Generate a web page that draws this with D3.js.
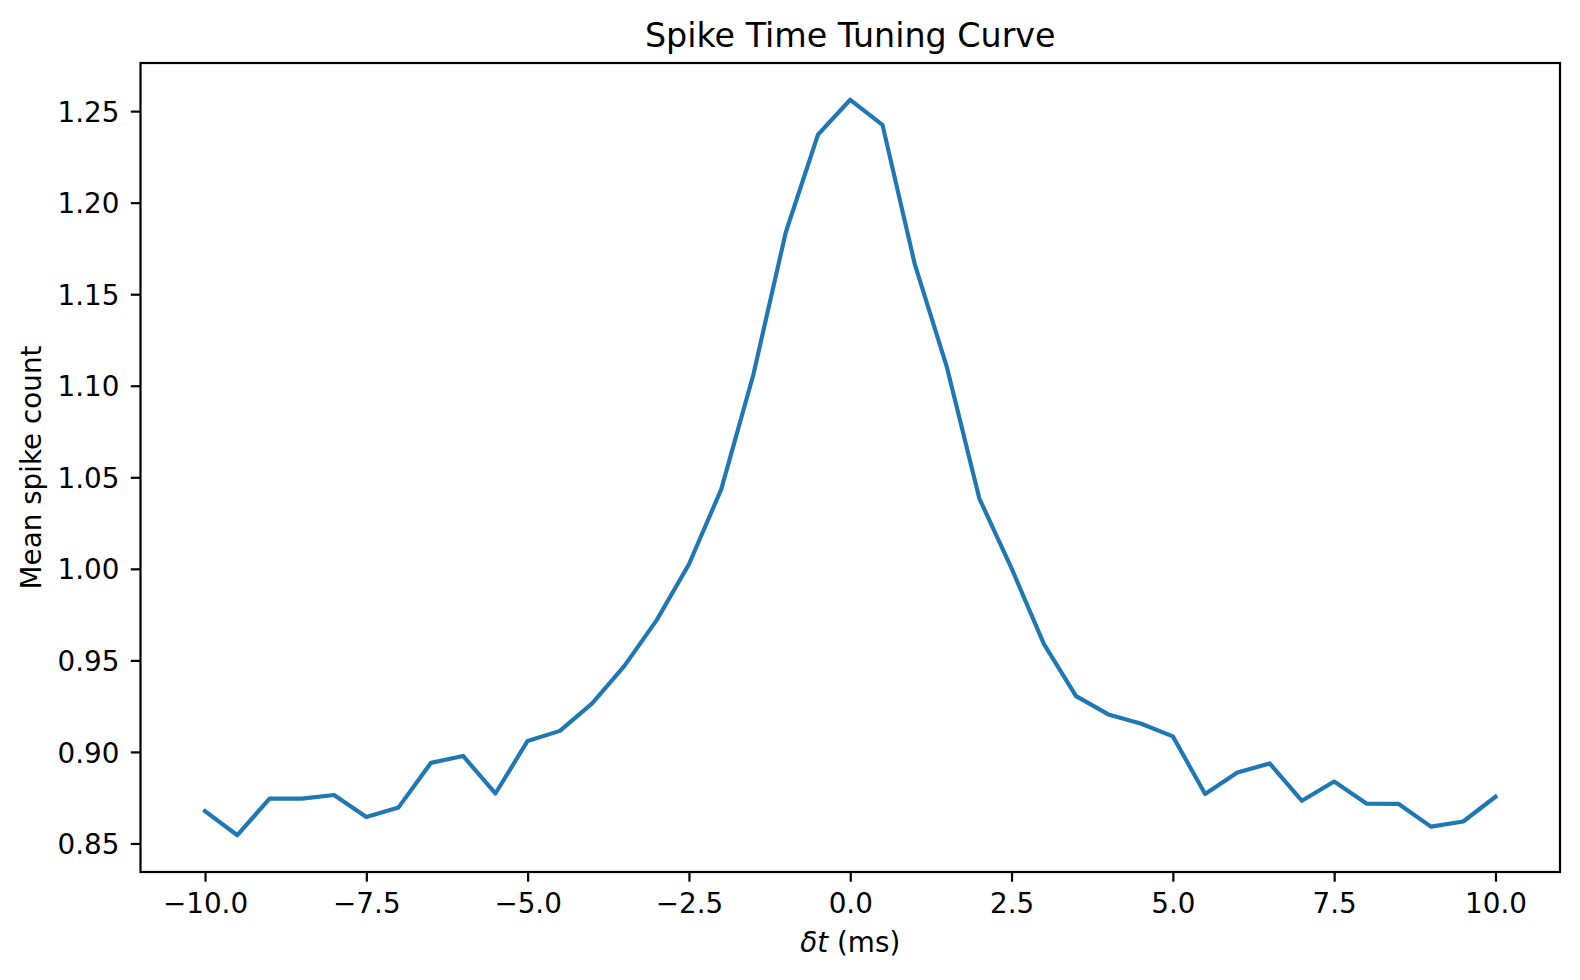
<!DOCTYPE html>
<html>
<head>
<meta charset="utf-8">
<script src="https://cdn.jsdelivr.net/npm/d3@7"></script>
<style>
  html, body { margin: 0; padding: 0; background: #fff; }
  svg { display: block; }
  text { font-family: "DejaVu Sans", sans-serif; fill: #000; }
</style>
</head>
<body>
<svg id="chart" width="1580" height="980"></svg>
<script>
// ---- data ----
const deltaT = [-10, -9.5, -9, -8.5, -8, -7.5, -7, -6.5, -6, -5.5, -5, -4.5, -4, -3.5, -3, -2.5, -2, -1.5, -1, -0.5,
                0, 0.5, 1, 1.5, 2, 2.5, 3, 3.5, 4, 4.5, 5, 5.5, 6, 6.5, 7, 7.5, 8, 8.5, 9, 9.5, 10];
const meanSpikeCount = [0.8677, 0.8545, 0.8745, 0.8745, 0.8765, 0.8645, 0.8697, 0.8940, 0.8978, 0.8773,
                        0.9060, 0.9115, 0.9265, 0.9470, 0.9720, 1.0025, 1.0434, 1.1063, 1.1837, 1.2372,
                        1.2562, 1.2425, 1.1664, 1.1099, 1.0385, 1.0003, 0.9590, 0.9305, 0.9205, 0.9155,
                        0.9085, 0.8770, 0.8888, 0.8937, 0.8733, 0.8838, 0.8718, 0.8716, 0.8592, 0.8620, 0.8755];
const xTicks = [-10, -7.5, -5, -2.5, 0, 2.5, 5, 7.5, 10];
const yTicks = [0.85, 0.90, 0.95, 1.00, 1.05, 1.10, 1.15, 1.20, 1.25];
const titleText = "Spike Time Tuning Curve";
const yLabelText = "Mean spike count";

// ---- layout ----
const plotL = 140.5, plotR = 1560, plotT = 63, plotB = 872;
const svg = d3.select("#chart");

function padded(ext) {
  const r = ext[1] - ext[0];
  return [ext[0] - 0.05 * r, ext[1] + 0.05 * r];
}
const x = d3.scaleLinear().domain(padded(d3.extent(deltaT))).range([plotL, plotR]);
const y = d3.scaleLinear().domain(padded(d3.extent(meanSpikeCount))).range([plotB, plotT]);

const fmtMinus = s => s.replace("-", "\u2212");
const tickLen = 9.7, tickPad = 9.7, lw = 2.2, fs = 27.8;

// x axis
const xAxis = d3.axisBottom(x).tickValues(xTicks).tickSize(tickLen).tickPadding(tickPad)
  .tickFormat(d => fmtMinus(d3.format(".1f")(d)));
const gx = svg.append("g").attr("transform", `translate(0,${plotB})`).call(xAxis);
gx.select(".domain").remove();
gx.selectAll(".tick line").attr("stroke", "#000").attr("stroke-width", lw);
gx.selectAll(".tick text").attr("font-size", fs).attr("font-family", "DejaVu Sans")
  .attr("fill", "#000").attr("dy", null).attr("y", 41.3);

// y axis
const yAxis = d3.axisLeft(y).tickValues(yTicks).tickSize(tickLen).tickPadding(tickPad)
  .tickFormat(d3.format(".2f"));
const gy = svg.append("g").attr("transform", `translate(${plotL},0)`).call(yAxis);
gy.select(".domain").remove();
gy.selectAll(".tick line").attr("stroke", "#000").attr("stroke-width", lw);
gy.selectAll(".tick text").attr("font-size", fs).attr("font-family", "DejaVu Sans")
  .attr("fill", "#000").attr("dy", null).attr("y", 10.1).attr("x", -21);

// line
const line = d3.line().x((d, i) => x(deltaT[i])).y(d => y(d));
svg.append("path").datum(meanSpikeCount)
  .attr("d", line)
  .attr("fill", "none")
  .attr("stroke", "#1f77b4")
  .attr("stroke-width", 4.17)
  .attr("stroke-linejoin", "round")
  .attr("stroke-linecap", "square");

// spines
svg.append("rect")
  .attr("x", plotL).attr("y", plotT)
  .attr("width", plotR - plotL).attr("height", plotB - plotT)
  .attr("fill", "none").attr("stroke", "#000").attr("stroke-width", lw)
  .attr("stroke-linejoin", "miter");

// title
svg.append("text")
  .attr("x", (plotL + plotR) / 2).attr("y", 46.5)
  .attr("text-anchor", "middle").attr("font-size", 33.3)
  .text(titleText);

// x label
const xl = svg.append("text")
  .attr("x", (plotL + plotR) / 2).attr("y", 952)
  .attr("text-anchor", "middle").attr("font-size", fs);
xl.append("tspan").attr("font-style", "italic").text("\u03B4t");
xl.append("tspan").text(" (ms)");

// y label
svg.append("text")
  .attr("transform", `translate(41,${(plotT + plotB) / 2}) rotate(-90)`)
  .attr("text-anchor", "middle").attr("font-size", fs)
  .text(yLabelText);
</script>
</body>
</html>
